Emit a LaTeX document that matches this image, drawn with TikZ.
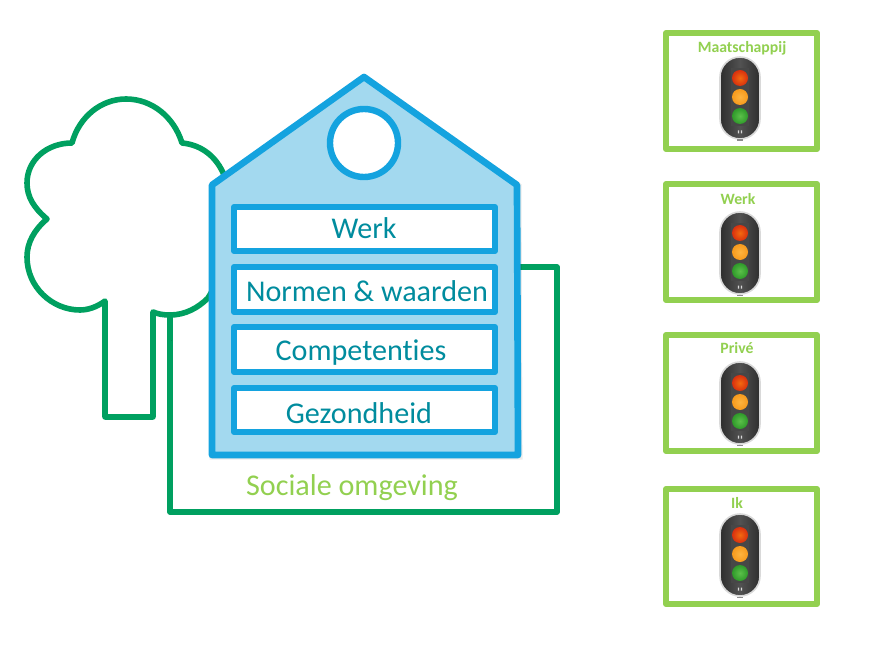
\documentclass[tikz,border=0pt]{standalone}
\usepackage{fontspec}
\setmainfont[Ligatures=NoCommon]{Carlito}
\definecolor{treegreen}{HTML}{00A060}
\definecolor{lightgreen}{HTML}{92D050}
\definecolor{housefill}{HTML}{A3D9EF}
\definecolor{houseline}{HTML}{14A3DF}
\definecolor{teal}{HTML}{008C9E}
\definecolor{lampred}{HTML}{D9300F}
\definecolor{lampredin}{HTML}{F26A10}
\definecolor{lamporange}{HTML}{F79A1C}
\definecolor{lamporangein}{HTML}{FDB440}
\definecolor{lampgreen}{HTML}{2F9A2A}
\definecolor{lampgreenin}{HTML}{5CC04A}
\tikzset{
  softshadow/.style={preaction={draw=black,draw opacity=.12,transform canvas={shift={(.8pt,-.8pt)}}}},
  treeline/.style={draw=treegreen,line width=4.2pt,line join=round,softshadow},
  houseshape/.style={draw=houseline,fill=housefill,line width=5pt,line join=round,
     preaction={draw=black,draw opacity=.08,line width=5.2pt,transform canvas={shift={(.8pt,-.8pt)}}}},
  itembox/.style={draw=houseline,fill=white,line width=4.6pt,line join=round,softshadow},
  itemtext/.style={text=teal,font=\fontsize{22.6}{24}\selectfont,inner sep=0pt},
  frameline/.style={draw=lightgreen,line width=4.4pt,line join=round,fill=white},
  framelabel/.style={text=lightgreen,font=\fontsize{11.8}{13}\selectfont\bfseries,inner sep=0pt},
  capsule/.style={rounded corners=15pt,draw=black!15,line width=1.2pt},
  lamp/.style 2 args={circle,draw=none,minimum size=12pt,inner sep=0pt,inner color=#1,outer color=#2},
  pics/trafficlight/.style={code={
    \path[capsule,left color=black!82,right color=black!82,middle color=black!68] (-20,-21) rectangle (20,61);
    \fill[black!72] (-9,-10) rectangle (9,48);
    \node[lamp={lampredin}{lampred}] at (0,0) {};
    \node[lamp={lamporangein}{lamporange}] at (0,19) {};
    \node[lamp={lampgreenin}{lampgreen}] at (0,38) {};
    \fill[white!85!black] (-2.2,52.5) rectangle (-.8,55.5) (.8,52.5) rectangle (2.2,55.5);
    \fill[black!45] (-3,61.5) rectangle (3,63);
  }}
}
\begin{document}
\begin{tikzpicture}[x=.75pt,y=-.75pt]
\useasboundingbox (0,0) rectangle (895,645);
% environment behind the house
\draw[treeline] (500,267) -- (557,267) -- (557,512) -- (170,512) -- (170,300);
% tree
\draw[treeline,fill=white]
  (72,143) .. controls (79,117) and (101,99) .. (126,99)
  .. controls (152,99) and (174,117) .. (182,143)
  .. controls (203,145) and (217,158) .. (224,175)
  .. controls (232,200) and (232,260) .. (208,298)
  .. controls (198,308) and (185,315) .. (170,315)
  .. controls (163,315) and (158,314) .. (153,312)
  -- (153,417) -- (105,417) -- (105,301)
  .. controls (97,307) and (88,310) .. (80,310)
  .. controls (52,310) and (27,287) .. (27,257)
  .. controls (27,243) and (34,230) .. (47,219)
  .. controls (34,208) and (27,197) .. (27,183)
  .. controls (27,160) and (47,143) .. (72,143) -- cycle;
\draw[treeline] (170,316) -- (170,340);
% house
\draw[houseshape] (364,77) -- (517,185) -- (518,455) -- (212,455) -- (212,185) -- cycle;
\draw[draw=houseline,fill=white,line width=4.8pt,softshadow] (364,143) circle[radius=34];
\draw[itembox] (234,207) rectangle (495,251);
\draw[itembox] (234,267) rectangle (495,312);
\draw[itembox] (234,327) rectangle (495,372);
\draw[itembox] (234,388) rectangle (495,432);
\node[itemtext] (werk) at (364,228) {Werk};
\node[itemtext] (normen) at (367,291) {Normen \& waarden};
\node[itemtext] (comp) at (361,352.5) {Competenties};
\node[itemtext] (gez) at (359,413) {Gezondheid};
\node[itemtext,text=lightgreen] (soc) at (352,487.5) {Sociale omgeving};
% right column
\draw[frameline] (666,33) rectangle (817,149);
\draw[frameline] (666,184) rectangle (817,300);
\draw[frameline] (666,335) rectangle (817,451);
\draw[frameline] (666,489) rectangle (817,604);
\pic at (740,78) {trafficlight};
\pic at (740,233) {trafficlight};
\pic at (740,383) {trafficlight};
\pic at (740,535) {trafficlight};
\node[framelabel] (l1) at (742,48.5) {Maatschappij};
\node[framelabel] (l2) at (738,199.5) {Werk};
\node[framelabel] (l3) at (737,348.5) {Privé};
\node[framelabel] (l4) at (737,502.5) {Ik};
\end{tikzpicture}
\end{document}
